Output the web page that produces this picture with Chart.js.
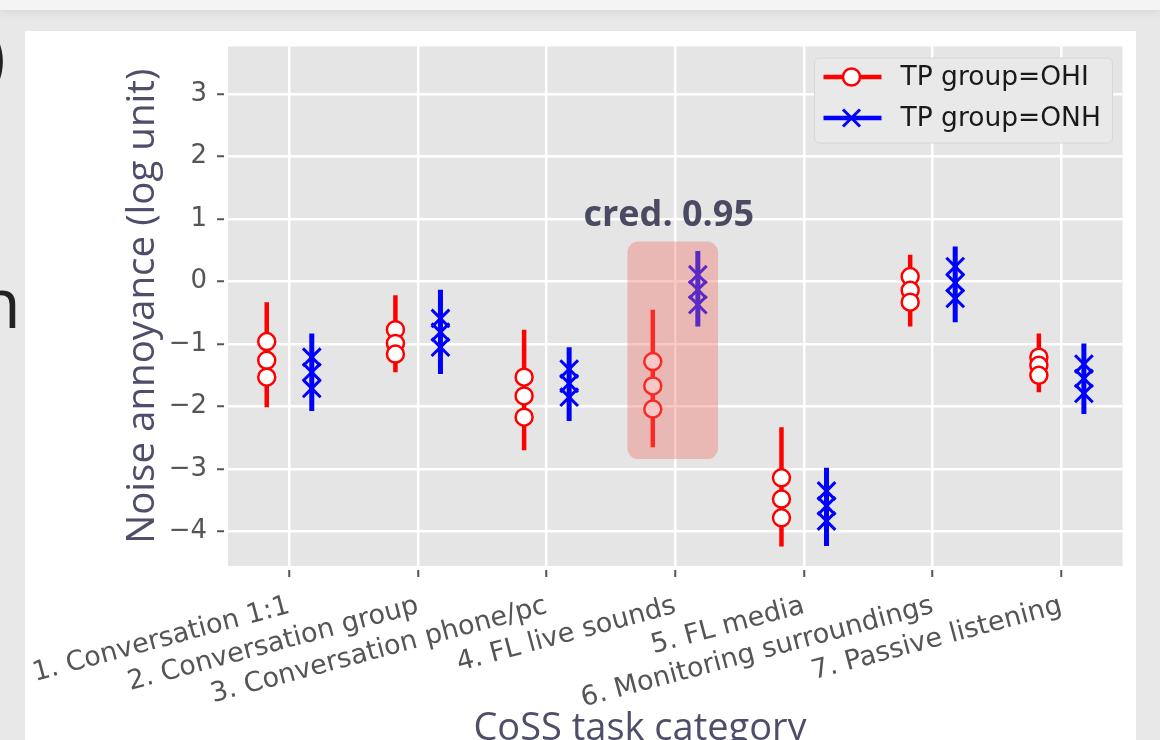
<!DOCTYPE html>
<html>
<head>
<meta charset="utf-8">
<script src="https://cdn.jsdelivr.net/npm/chart.js@4.4.1/dist/chart.umd.min.js"></script>
<style>
  html, body { margin: 0; padding: 0; width: 1160px; height: 740px; overflow: hidden; background: #e8e8e8; }
  #topbar { position: absolute; left: 0; top: 0; width: 1160px; height: 10px; background: #f4f4f4; box-shadow: 0 3px 9px rgba(0,0,0,0.07); }
  #card { position: absolute; left: 25px; top: 31px; width: 1111px; height: 760px; background: #fff; }
  #wrap { position: absolute; left: 25px; top: 31px; width: 1113px; height: 709px; }
  .frag { position: absolute; font-family: "Open Sans", sans-serif; font-size: 70px; line-height: 1; color: #222; }
  #xtitle { position: absolute; left: 640px; top: 706px; transform: translateX(-50%); white-space: nowrap;
            font-family: "Open Sans", sans-serif; font-size: 38px; line-height: 1; color: #4e4e6a; }
</style>
</head>
<body>
<div id="topbar"></div>
<div class="frag" style="left:-15px; top:19px;">)</div>
<div class="frag" style="left:-22px; top:266px;">n</div>
<div id="card"></div>
<div id="wrap"><canvas id="myChart"></canvas></div>
<div id="xtitle">CoSS task category</div>

<script>
const categories = [
  "1. Conversation 1:1",
  "2. Conversation group",
  "3. Conversation phone/pc",
  "4. FL live sounds",
  "5. FL media",
  "6. Monitoring surroundings",
  "7. Passive listening"
];
const groups = ["TP group=OHI", "TP group=ONH"];

// OHI (red): interval ends and the three markers per category
const ohiLow   = [-2.01, -1.45, -2.70, -2.65, -4.24, -0.72, -1.77];
const ohiHigh  = [-0.33, -0.22, -0.77, -0.45, -2.33,  0.43, -0.83];
const ohiUpper = [-0.96, -0.77, -1.53, -1.28, -3.14,  0.08, -1.21];
const ohiMid   = [-1.26, -0.99, -1.83, -1.67, -3.48, -0.14, -1.34];
const ohiLower = [-1.53, -1.16, -2.17, -2.04, -3.78, -0.33, -1.50];

// ONH (blue)
const onhLow   = [-2.07, -1.48, -2.23, -0.72, -4.23, -0.65, -2.12];
const onhHigh  = [-0.83, -0.13, -1.05,  0.49, -2.98,  0.56, -0.99];
const onhUpper = [-1.21, -0.59, -1.40,  0.11, -3.35,  0.24, -1.32];
const onhMid   = [-1.45, -0.81, -1.63, -0.13, -3.59, -0.02, -1.55];
const onhLower = [-1.71, -1.05, -1.85, -0.37, -3.83, -0.27, -1.79];

const yTicks = [-4, -3, -2, -1, 0, 1, 2, 3];

const credText = "cred. 0.95";
const credCategory = 3;

// layout / style
const offsets = [-0.175, 0.175];
const colors = ["#ff0000", "#0000ff"];
const credBox = { x0: credCategory - 0.372, x1: credCategory + 0.332, y0: 0.64, y1: -2.84 };

function stemData(low, high, off) {
  const pts = [];
  low.forEach((lo, i) => {
    pts.push({ x: i + off, y: lo }, { x: i + off, y: high[i] }, { x: i + off, y: null });
  });
  return pts;
}
function markerData(cols, off) {
  const pts = [];
  cols.forEach(arr => arr.forEach((v, i) => pts.push({ x: i + off, y: v })));
  return pts;
}

function roundRect(ctx, x, y, w, h, r) {
  ctx.beginPath();
  ctx.moveTo(x + r, y);
  ctx.lineTo(x + w - r, y);
  ctx.arcTo(x + w, y, x + w, y + r, r);
  ctx.lineTo(x + w, y + h - r);
  ctx.arcTo(x + w, y + h, x + w - r, y + h, r);
  ctx.lineTo(x + r, y + h);
  ctx.arcTo(x, y + h, x, y + h - r, r);
  ctx.lineTo(x, y + r);
  ctx.arcTo(x, y, x + r, y, r);
  ctx.closePath();
}

function drawMarker(ctx, kind, x, y) {
  ctx.save();
  if (kind === 0) {
    ctx.beginPath();
    ctx.arc(x, y, 8.5, 0, Math.PI * 2);
    ctx.fillStyle = "#fff";
    ctx.fill();
    ctx.lineWidth = 2.5;
    ctx.strokeStyle = colors[0];
    ctx.stroke();
  } else {
    const d = 8.5;
    ctx.beginPath();
    ctx.moveTo(x - d, y - d); ctx.lineTo(x + d, y + d);
    ctx.moveTo(x + d, y - d); ctx.lineTo(x - d, y + d);
    ctx.lineWidth = 3;
    ctx.strokeStyle = colors[1];
    ctx.stroke();
  }
  ctx.restore();
}

const ggplotLook = {
  id: "ggplotLook",
  beforeDraw(chart) {
    const { ctx, chartArea: a } = chart;
    ctx.save();
    ctx.fillStyle = "#e5e5e5";
    ctx.fillRect(a.left, a.top, a.right - a.left, a.bottom - a.top);
    ctx.restore();
  },
  afterDatasetsDraw(chart) {
    const { ctx, chartArea: a, scales } = chart;
    const x = scales.x, y = scales.y;

    // credible-interval highlight
    const bx0 = x.getPixelForValue(credBox.x0), bx1 = x.getPixelForValue(credBox.x1);
    const by0 = y.getPixelForValue(credBox.y0), by1 = y.getPixelForValue(credBox.y1);
    ctx.save();
    roundRect(ctx, bx0, by0, bx1 - bx0, by1 - by0, 11);
    ctx.fillStyle = "rgba(238, 110, 100, 0.38)";
    ctx.fill();
    ctx.font = 'bold 36px "Open Sans"';
    ctx.fillStyle = "#4a4a62";
    ctx.textAlign = "center";
    ctx.textBaseline = "alphabetic";
    ctx.fillText(credText, (bx0 + bx1) / 2 - 4, by0 - 16);
    ctx.restore();

    // legend, matplotlib style
    const w = 298, h = 85;
    const lx = a.right - 10 - w, ly = a.top + 11.5;
    ctx.save();
    roundRect(ctx, lx, ly, w, h, 5);
    ctx.fillStyle = "#e9e9e9";
    ctx.fill();
    ctx.lineWidth = 1;
    ctx.strokeStyle = "#d6d6d6";
    ctx.stroke();
    groups.forEach((name, i) => {
      const ry = ly + 19 + i * 41;
      ctx.beginPath();
      ctx.moveTo(lx + 9, ry);
      ctx.lineTo(lx + 67, ry);
      ctx.lineWidth = 4.5;
      ctx.strokeStyle = colors[i];
      ctx.stroke();
      drawMarker(ctx, i, lx + 37, ry);
      ctx.font = '26.5px "DejaVu Sans"';
      ctx.fillStyle = "#1a1a1a";
      ctx.textAlign = "left";
      ctx.textBaseline = "middle";
      ctx.fillText(name, lx + 86, ry + 1);
    });
    ctx.restore();
  }
};

const info = {
  datasets: [
    {
      type: "scatter",
      label: groups[0],
      data: markerData([ohiUpper, ohiMid, ohiLower], offsets[0]),
      pointStyle: "circle",
      pointRadius: 8.5,
      pointBackgroundColor: "#ffffff",
      pointBorderColor: colors[0],
      pointBorderWidth: 2.5,
      order: 0
    },
    {
      type: "scatter",
      label: groups[1],
      data: markerData([onhUpper, onhMid, onhLower], offsets[1]),
      pointStyle: "crossRot",
      pointRadius: 12.5,
      pointBorderColor: colors[1],
      pointBorderWidth: 3,
      order: 0
    },
    {
      type: "line",
      label: groups[0] + " interval",
      data: stemData(ohiLow, ohiHigh, offsets[0]),
      borderColor: colors[0],
      borderWidth: 4.5,
      borderCapStyle: "butt",
      pointRadius: 0,
      spanGaps: false,
      order: 1
    },
    {
      type: "line",
      label: groups[1] + " interval",
      data: stemData(onhLow, onhHigh, offsets[1]),
      borderColor: colors[1],
      borderWidth: 5,
      borderCapStyle: "butt",
      pointRadius: 0,
      spanGaps: false,
      order: 1
    }
  ]
};

const options = {
  responsive: true,
  maintainAspectRatio: false,
  animation: false,
  events: [],
  layout: { padding: { left: 0, right: 12, top: 11, bottom: 0 } },
  plugins: {
    legend: { display: false },
    tooltip: { enabled: false }
  },
  scales: {
    x: {
      type: "linear",
      min: -0.476,
      max: 6.475,
      afterBuildTicks: (s) => { s.ticks = categories.map((c, i) => ({ value: i })); },
      afterFit: (s) => { s.height = 174; s.paddingLeft = 0; s.paddingRight = 0; },
      border: { display: false },
      grid: {
        color: "#ffffff",
        lineWidth: 2.5,
        drawTicks: true,
        tickLength: 11,
        tickColor: "#555555",
        tickWidth: 2,
        tickBorderDash: [0, 4, 7, 100]
      },
      ticks: {
        autoSkip: false,
        minRotation: 15,
        maxRotation: 15,
        padding: 13,
        color: "#555555",
        font: { family: "DejaVu Sans", size: 27 },
        callback: (v) => categories[v]
      }
    },
    y: {
      type: "linear",
      min: -4.55,
      max: 3.76,
      afterBuildTicks: (s) => { s.ticks = yTicks.map(v => ({ value: v })); },
      afterFit: (s) => { s.width = 203; s.paddingTop = 0; s.paddingBottom = 0; },
      border: { display: false },
      grid: {
        color: "#ffffff",
        lineWidth: 2.5,
        drawTicks: true,
        tickLength: 11,
        tickColor: "#555555",
        tickWidth: 2,
        tickBorderDash: [7, 4]
      },
      ticks: {
        padding: 10,
        color: "#555555",
        font: { family: "DejaVu Sans", size: 26 },
        callback: (v) => (v < 0 ? "\u2212" + Math.abs(v) : String(v))
      },
      title: {
        display: true,
        text: "Noise annoyance (log unit)",
        color: "#4e4e6a",
        font: { family: "Open Sans", size: 38.5 },
        padding: { top: 95, bottom: 0 }
      }
    }
  }
};

const myChart = new Chart(document.getElementById("myChart"), {
  type: "line",
  data: info,
  options,
  plugins: [ggplotLook]
});
</script>
</body>
</html>
